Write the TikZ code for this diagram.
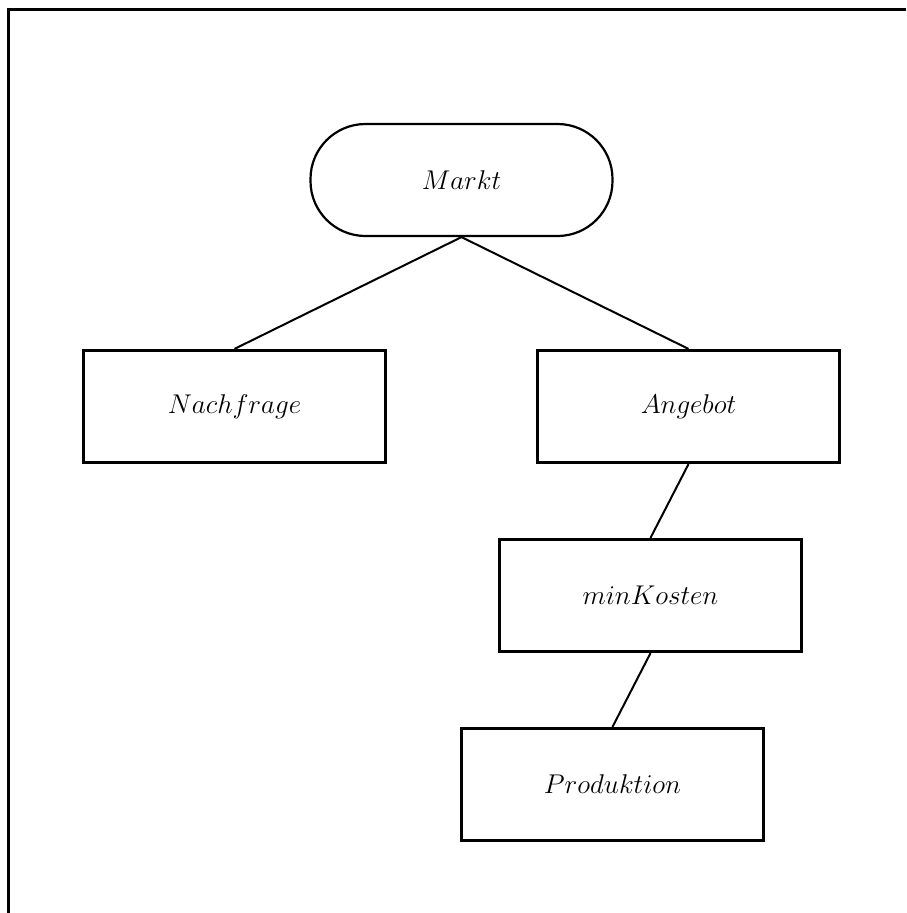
\documentclass[tikz,border=0pt]{standalone}
\usetikzlibrary{positioning}
\newcommand{\lbl}[1]{\scalebox{1.09}{$#1$}}
\begin{document}
\begin{tikzpicture}[x=1pt,y=-1pt,
  box/.style={draw,line width=3.2pt,minimum width=302pt,minimum height=112pt,inner sep=0pt,font=\fontsize{24.88}{30}\selectfont},
  stadium/.style={draw,line width=2.2pt,rounded corners=55pt,minimum width=302pt,minimum height=112pt,inner sep=0pt,font=\fontsize{24.88}{30}\selectfont},
  link/.style={line width=2pt}]
\useasboundingbox (0,0) rectangle (906,913);
\draw[line width=3pt] (906,9) -- (8.5,9) -- (8.5,913);
\node[stadium] (markt) at (461.5,180) {\lbl{Markt}};
\node[box] (nach) at (234.5,406.5) {\lbl{Nachfrage}};
\node[box] (ang) at (688.5,406.5) {\lbl{Angebot}};
\node[box] (mink) at (650.5,595.5) {\lbl{minKosten}};
\node[box] (prod) at (612.5,784.5) {\lbl{Produktion}};
\draw[link] (markt.south) -- (nach.north);
\draw[link] (markt.south) -- (ang.north);
\draw[link] (ang.south) -- (mink.north);
\draw[link] (mink.south) -- (prod.north);
\end{tikzpicture}
\end{document}
